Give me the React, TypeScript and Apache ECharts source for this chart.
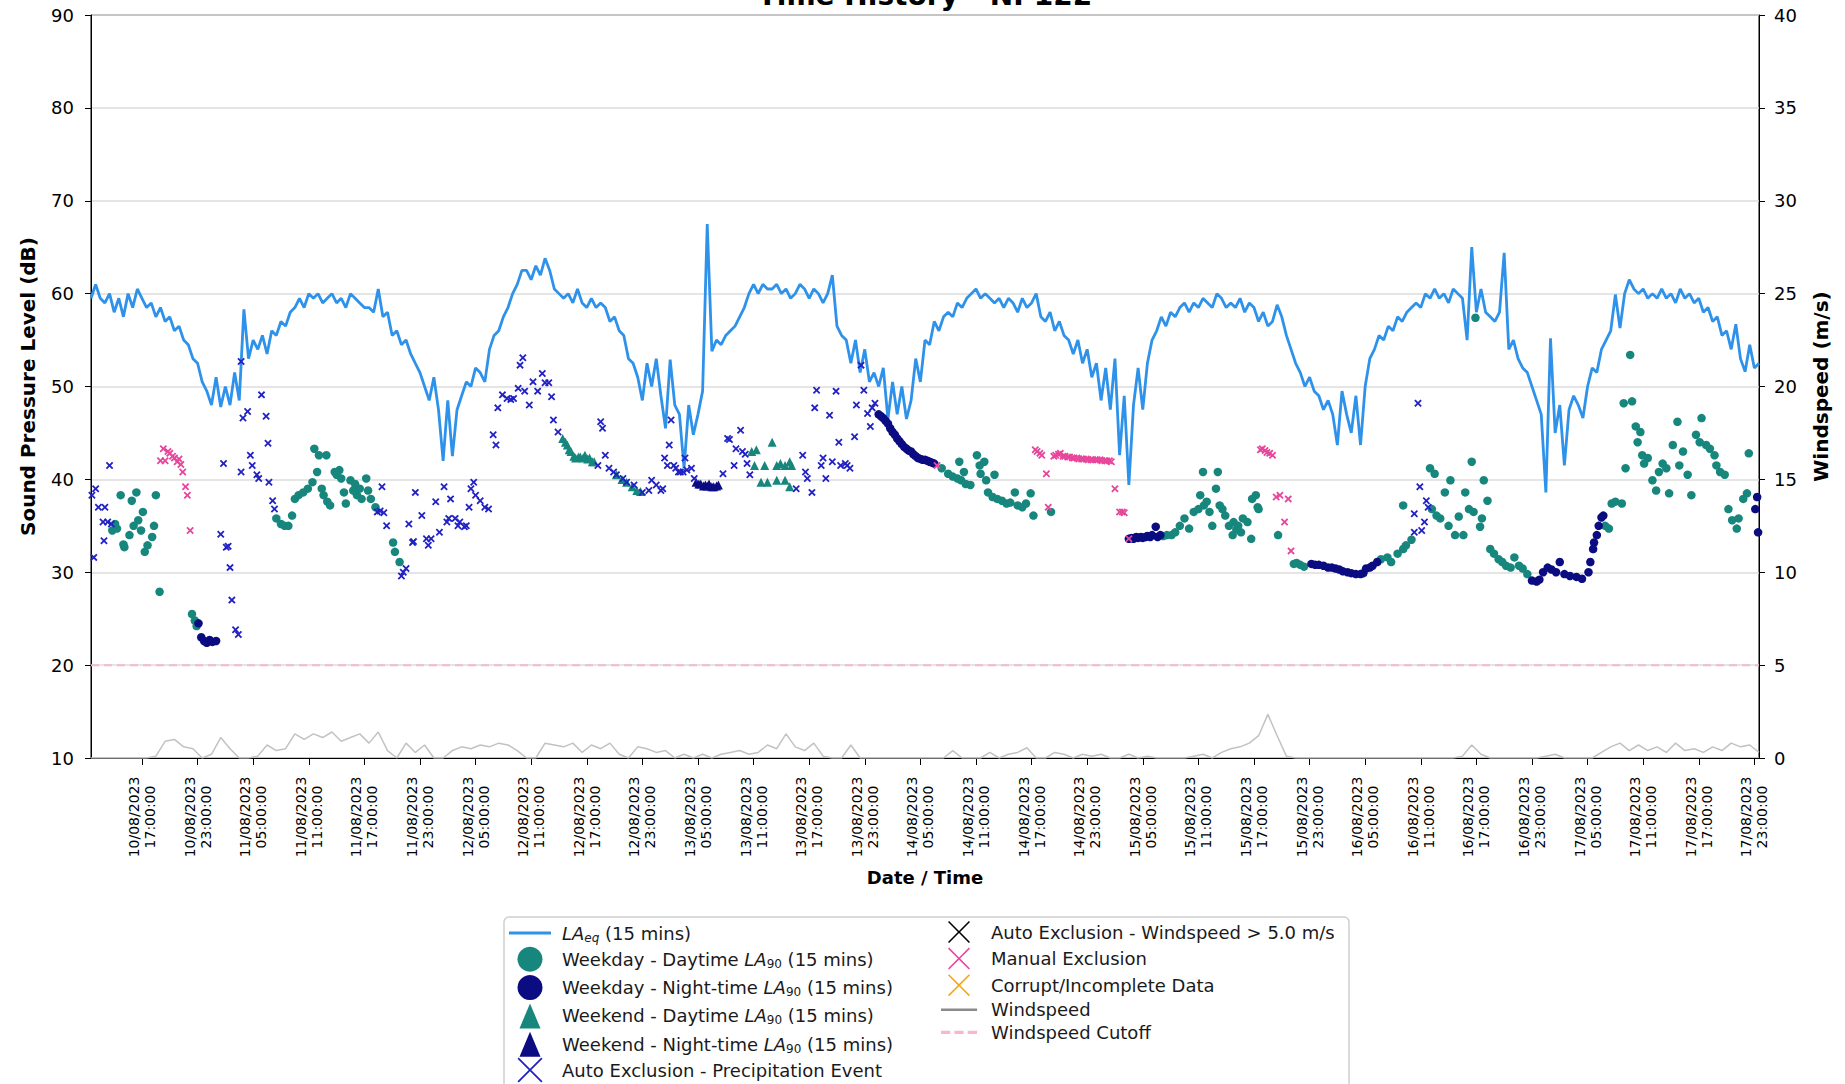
import React, { useEffect, useRef } from "react";
import * as echarts from "echarts";

// Time is expressed in hours since 10/08/2023 00:00
const X_MIN = 11.5;
const X_MAX = 191.5;
const TICK_HOURS = [17, 23, 29, 35, 41, 47, 53, 59, 65, 71, 77, 83, 89, 95, 101, 107, 113, 119, 125, 131, 137, 143, 149, 155, 161, 167, 173, 179, 185, 191];
const TICK_LABELS = [
  "10/08/2023\n17:00:00", "10/08/2023\n23:00:00", "11/08/2023\n05:00:00", "11/08/2023\n11:00:00", "11/08/2023\n17:00:00",
  "11/08/2023\n23:00:00", "12/08/2023\n05:00:00", "12/08/2023\n11:00:00", "12/08/2023\n17:00:00", "12/08/2023\n23:00:00",
  "13/08/2023\n05:00:00", "13/08/2023\n11:00:00", "13/08/2023\n17:00:00", "13/08/2023\n23:00:00", "14/08/2023\n05:00:00",
  "14/08/2023\n11:00:00", "14/08/2023\n17:00:00", "14/08/2023\n23:00:00", "15/08/2023\n05:00:00", "15/08/2023\n11:00:00",
  "15/08/2023\n17:00:00", "15/08/2023\n23:00:00", "16/08/2023\n05:00:00", "16/08/2023\n11:00:00", "16/08/2023\n17:00:00",
  "16/08/2023\n23:00:00", "17/08/2023\n05:00:00", "17/08/2023\n11:00:00", "17/08/2023\n17:00:00", "17/08/2023\n23:00:00",
];

// LAeq, every 30 minutes from 10/08 11:30
const LAEQ_START = 11.5;
const LAEQ_STEP = 0.5;
const LAEQ = [
  59.5, 61, 59.5, 59, 60, 58, 59.5, 57.5, 60, 58.5, 60.5, 59.5,
  58.5, 59, 57.5, 58.5, 57, 57.5, 56, 56.5, 55, 54.5, 53, 52.5,
  50.5, 49.5, 48, 51, 47.8, 50, 48, 51.5, 48.5, 58.3, 53, 55,
  54, 55.5, 53.5, 56, 55.5, 57, 56.5, 58, 58.5, 59.5, 58.5, 60,
  59.5, 60, 59, 59.5, 60, 59, 59.5, 58.5, 60, 59.5, 59, 58.5,
  58.5, 58, 60.5, 57.5, 58, 55.5, 56, 54.5, 55, 53.5, 52.5, 51.5,
  50, 48.5, 51, 47.5, 42, 48.5, 42.5, 47.5, 49, 50.5, 50, 52,
  51.5, 50.5, 54, 55.5, 56, 57.5, 58.5, 60, 61, 62.5, 62.5, 61.5,
  63, 62, 63.8, 62.5, 60.5, 60, 59.5, 60, 59, 60.5, 59, 58.5,
  59.5, 58.5, 59, 58.5, 57, 57.5, 56, 55.5, 53, 52.5, 51, 48.5,
  52.5, 50, 53, 49, 45.5, 52.9, 48, 47, 41.2, 48, 44.8, 47,
  49.5, 67.5, 53.8, 55, 54.5, 55.5, 56, 56.5, 57.5, 58.5, 60, 61,
  60, 61, 60.5, 60.5, 61, 60, 60.5, 59.5, 60, 61, 60.5, 59.5,
  60.5, 60, 59, 60, 62, 56.5, 55.5, 55, 52.5, 55, 51.5, 54,
  50.5, 51.5, 50, 52, 46.5, 50.5, 47, 50, 46.5, 48.5, 53, 50.5,
  55, 54.5, 57, 56, 57.5, 58, 57.5, 59, 58.5, 59.5, 60, 60.5,
  59.5, 60, 59.5, 59, 59.5, 58.5, 59.5, 59, 58, 59.5, 58.5, 59,
  60, 57.5, 57, 58, 56, 57, 55.5, 55, 53.5, 55, 52.5, 54,
  51, 52.5, 48.5, 52, 47.5, 53, 42.6, 49, 39.4, 48, 52, 47.5,
  52.5, 55, 56, 57.5, 56.5, 58, 57.5, 58.5, 59, 58, 59, 58.5,
  59.5, 59, 58.5, 60, 59.5, 58.5, 59, 58.5, 59.5, 58, 59, 58.5,
  57, 58, 56.5, 57, 58.8, 57.5, 55.5, 54, 52.5, 51.5, 50, 51,
  49.5, 49, 47.5, 48.5, 47, 43.7, 49.5, 47, 45, 49, 43.7, 50,
  53, 54, 55.5, 55, 56.5, 56, 57.5, 57, 58, 58.5, 59, 58.5,
  60, 59.5, 60.5, 59.5, 60, 59, 60.5, 60, 59.5, 55, 65, 58,
  60.5, 58, 57.5, 57, 58, 64.4, 54, 55, 53, 52, 51.5, 50,
  48.5, 47, 38.6, 55.2, 45, 48, 41.5, 47.5, 49, 48, 46.6, 50,
  52, 51.5, 54, 55, 56, 59.9, 56.3, 60, 61.5, 60.5, 60, 60.5,
  59.5, 60, 59.5, 60.5, 59.5, 60, 59, 60.5, 59.5, 60, 59, 59.5,
  58, 58.5, 57, 57.5, 55.5, 56, 54, 56.7, 53, 51.6, 54.5, 52,
  52.5,
];

// Windspeed (m/s), hourly from 10/08 11:30
const WIND_START = 11.5;
const WIND_STEP = 1;
const WIND = [
  0, 0, 0, 0, 0, 0,
  0, 0.1, 0.9, 1.0, 0.6, 0.5,
  0, 0.2, 1.1, 0.5, 0, 0,
  0.1, 0.7, 0.4, 0.5, 1.3, 1.0,
  1.3, 1.1, 1.4, 0.9, 1.1, 1.3,
  0.8, 1.4, 0.4, 0, 0.8, 0.3,
  0.7, 0, 0, 0.4, 0.6, 0.5,
  0.7, 0.6, 0.8, 0.7, 0.4, 0,
  0, 0.8, 0.7, 0.6, 0.8, 0.3,
  0.7, 0.5, 0.8, 0.2, 0, 0.6,
  0.5, 0.3, 0.4, 0, 0.2, 0,
  0.2, 0, 0.2, 0.3, 0.4, 0.2,
  0.3, 0.7, 0.5, 1.3, 0.6, 0.4,
  0.8, 0.1, 0, 0, 0.7, 0,
  0, 0, 0, 0, 0, 0,
  0, 0, 0, 0.4, 0, 0,
  0, 0.3, 0, 0.2, 0.3, 0.55,
  0, 0, 0.3, 0.2, 0, 0.2,
  0.1, 0.2, 0, 0, 0.2, 0,
  0.1, 0, 0, 0, 0, 0.1,
  0.2, 0, 0.3, 0.5, 0.6, 0.8,
  1.2, 2.35, 1.2, 0.1, 0, 0,
  0, 0, 0, 0, 0, 0,
  0, 0, 0, 0, 0, 0,
  0, 0, 0, 0, 0.1, 0.7,
  0.2, 0, 0, 0, 0, 0,
  0, 0.1, 0.2, 0, 0, 0,
  0, 0.3, 0.6, 0.8, 0.4, 0.7,
  0.4, 0.6, 0.3, 0.8, 0.4, 0.5,
  0.3, 0.6, 0.4, 0.8, 0.6, 0.7,
  0.3,
];
const WIND_CUTOFF = 5;

// [hour, dB]
const WEEKDAY_DAY = [
  [13.8, 34.5], [14.1, 35.2], [14.3, 34.7], [14.7, 38.3], [15.0, 33.0], [15.1, 32.7], [15.65, 34.0], [15.9, 37.7],
  [16.1, 35.0], [16.4, 38.6], [16.6, 35.6], [16.9, 34.5], [17.1, 36.5], [17.3, 32.2], [17.6, 32.9], [18.1, 33.8],
  [18.3, 35.0], [18.5, 38.3], [18.9, 27.9], [22.4, 25.5], [22.7, 24.8], [22.9, 24.2],
  [31.5, 35.8], [32.0, 35.2], [32.4, 35.0], [32.8, 35.0], [33.2, 36.1], [33.5, 37.9], [33.9, 38.3], [34.4, 38.6],
  [34.9, 39.0], [35.4, 39.7], [35.6, 43.3], [35.9, 40.8], [36.1, 42.6], [36.4, 39.0], [36.6, 38.3], [36.9, 42.6],
  [37.0, 37.6], [37.3, 37.2], [37.8, 40.8], [38.0, 40.5], [38.3, 41.0], [38.5, 40.1], [38.8, 38.6], [39.0, 37.4],
  [39.5, 39.9], [39.8, 38.8], [40.0, 39.5], [40.2, 38.3], [40.5, 39.0], [40.7, 37.9], [41.2, 40.1], [41.4, 38.8],
  [41.7, 37.9], [42.2, 37.0], [44.1, 33.2], [44.3, 32.2], [44.8, 31.1],
  [103.3, 41.2], [104.0, 40.6], [104.5, 40.3], [105.0, 40.1], [105.2, 41.9], [105.4, 39.9], [105.7, 40.8], [105.9, 39.5],
  [106.4, 39.4], [107.1, 42.6], [107.4, 41.5], [107.5, 40.6], [107.9, 41.9], [108.1, 39.9], [108.3, 38.6], [108.8, 38.1],
  [109.0, 40.5], [109.3, 37.9], [109.8, 37.7], [110.3, 37.4], [110.7, 37.5], [111.2, 38.6], [111.5, 37.2], [112.0, 37.0],
  [112.4, 37.4], [112.9, 38.5], [113.2, 36.1], [115.1, 36.5],
  [127.2, 33.9], [127.6, 34.0], [128.1, 34.0], [128.5, 34.3], [129.0, 35.0], [129.5, 35.8], [130.0, 34.7], [130.5, 36.5],
  [131.0, 36.8], [131.2, 38.3], [131.5, 40.8], [131.6, 37.2], [131.9, 37.6], [132.2, 36.5], [132.5, 35.0], [132.9, 39.0],
  [133.1, 40.8], [133.3, 37.2], [133.6, 36.8], [133.9, 36.1], [134.3, 35.0], [134.7, 34.0], [134.8, 35.4], [135.1, 34.6],
  [135.3, 35.0], [135.6, 34.3], [135.8, 35.8], [136.3, 35.4], [136.7, 33.6], [136.8, 37.9], [137.2, 38.3], [137.4, 37.0],
  [137.5, 36.8], [139.6, 34.0], [141.3, 30.9], [141.6, 31.0], [142.0, 30.8], [142.4, 30.6],
  [150.7, 31.4], [151.4, 31.6], [151.8, 31.1], [152.5, 32.0], [153.1, 32.5], [153.4, 32.9], [153.1, 37.2], [154.0, 33.5],
  [156.0, 41.2], [156.5, 40.6], [156.2, 36.8], [156.7, 36.1], [157.1, 35.8], [157.6, 38.6], [158.0, 35.0], [158.2, 39.9],
  [158.7, 34.0], [159.1, 36.0], [159.6, 34.0], [159.8, 38.6], [160.2, 36.8], [160.5, 41.9], [160.7, 36.5], [160.9, 57.4],
  [161.4, 34.9], [161.6, 35.8], [161.8, 39.9], [162.2, 37.7], [162.5, 32.5], [162.9, 32.0], [163.4, 31.4], [163.8, 31.1],
  [164.2, 30.7], [164.7, 30.5], [165.1, 31.6], [165.6, 30.7], [166.0, 30.4], [166.5, 29.8],
  [174.9, 35.0], [175.3, 34.7], [175.6, 37.4], [176.0, 37.6], [176.7, 37.4], [176.9, 48.2], [177.1, 41.2], [177.6, 53.4],
  [177.8, 48.4], [178.2, 45.7], [178.4, 44.0], [178.7, 45.1], [178.9, 42.6], [179.1, 41.7], [179.5, 42.3], [180.0, 39.9],
  [180.4, 38.8], [180.7, 40.8], [181.1, 41.7], [181.5, 41.2], [181.8, 38.5], [182.2, 43.7], [182.7, 46.2], [182.9, 41.5],
  [183.3, 43.0], [183.8, 40.5], [184.2, 38.3], [184.7, 44.8], [185.1, 44.0], [185.3, 46.6], [185.8, 43.7], [186.2, 43.3],
  [186.7, 42.6], [186.9, 41.5], [187.3, 40.8], [187.8, 40.5], [188.2, 36.8], [188.6, 35.6], [189.1, 34.7], [189.3, 35.8],
  [189.8, 37.9], [190.2, 38.5], [190.4, 42.8],
];

const WEEKDAY_NIGHT = [
  [23.1, 24.5], [23.4, 23.0], [23.7, 22.6], [24.0, 22.4], [24.3, 22.7], [24.6, 22.5], [25.0, 22.6],
  [96.5, 47.0], [96.75, 46.8], [97.0, 46.6], [97.25, 46.3], [97.5, 46.0], [97.75, 45.5], [98.0, 45.1], [98.25, 44.8],
  [98.5, 44.4], [98.75, 44.1], [99.0, 43.8], [99.25, 43.5], [99.5, 43.3], [99.75, 43.1], [100.0, 43.0], [100.25, 42.7],
  [100.5, 42.5], [100.75, 42.3], [101.0, 42.2], [101.25, 42.1], [101.5, 42.1], [101.75, 42.0], [102.0, 41.9],
  [102.25, 41.8], [102.5, 41.7],
  [123.5, 33.6], [123.8, 33.7], [124.0, 33.6], [124.3, 33.8], [124.5, 33.7], [124.8, 33.8], [125.0, 33.7], [125.3, 33.8],
  [125.5, 33.9], [125.8, 33.8], [126.0, 34.0], [126.4, 34.9], [126.6, 33.8], [126.9, 34.0],
  [143.2, 30.9], [143.6, 30.8], [144.0, 30.8], [144.5, 30.7], [145.0, 30.5], [145.4, 30.5], [145.8, 30.4], [146.2, 30.3],
  [146.6, 30.1], [147.1, 30.0], [147.5, 29.9], [148.0, 29.8], [148.5, 29.8], [148.8, 29.9], [149.1, 30.4], [149.5, 30.5],
  [149.8, 30.7], [150.3, 31.1],
  [167.0, 29.1], [167.5, 29.0], [167.8, 29.2], [168.2, 30.0], [168.7, 30.5], [169.1, 30.3], [169.6, 30.0], [170.0, 31.1],
  [170.5, 29.8], [171.1, 29.6], [171.8, 29.5], [172.4, 29.3], [173.1, 30.0], [173.3, 31.1], [173.6, 32.5], [173.7, 33.2],
  [174.0, 34.0], [174.2, 35.0], [174.5, 35.9], [174.7, 36.1],
  [191.1, 36.8], [191.3, 38.1], [191.4, 34.3],
];

const WEEKEND_DAY = [
  [62.4, 44.4], [62.7, 44.0], [62.9, 43.7], [63.1, 43.2], [63.3, 43.0], [63.6, 42.5], [63.8, 42.3], [64.1, 42.4],
  [64.3, 42.4], [64.6, 42.3], [64.8, 42.6], [65.1, 42.2], [65.3, 42.3], [65.6, 41.9], [65.8, 41.9],
  [68.2, 40.5], [68.8, 40.0], [69.3, 39.7], [69.9, 39.2], [70.4, 38.8], [70.8, 38.7],
  [82.8, 43.0], [83.1, 41.5], [83.3, 43.2], [83.8, 39.7], [84.2, 41.5], [84.5, 39.7], [85.0, 44.0], [85.5, 39.9],
  [85.5, 41.5], [85.9, 41.7], [86.4, 41.5], [86.4, 39.9], [86.9, 41.9], [86.9, 39.2], [87.1, 41.5],
];

const WEEKEND_NIGHT = [
  [76.8, 39.7], [77.1, 39.5], [77.3, 39.5], [77.6, 39.3], [77.8, 39.4], [78.0, 39.3], [78.2, 39.5], [78.5, 39.2],
  [78.7, 39.2], [79.0, 39.3], [79.2, 39.4],
];

const PRECIP = [
  [11.6, 38.3], [11.8, 31.6], [12.0, 39.0], [12.3, 37.0], [12.8, 35.4], [12.9, 33.4], [13.0, 37.0], [13.3, 35.4],
  [13.5, 41.5], [13.7, 35.2],
  [25.5, 34.1], [25.8, 41.7], [26.1, 32.7], [26.3, 32.8], [26.5, 30.5], [26.7, 27.0], [27.1, 23.8], [27.4, 23.3],
  [27.7, 52.7], [27.7, 40.8], [27.9, 46.6], [28.4, 47.3], [28.7, 42.6], [28.9, 41.5], [29.4, 40.5], [29.6, 40.1],
  [29.9, 49.1], [30.4, 46.8], [30.6, 43.9], [30.7, 39.7], [31.1, 37.7], [31.3, 36.8],
  [42.4, 36.5], [42.7, 36.6], [42.9, 39.2], [43.1, 36.4], [43.4, 35.0], [45.0, 29.6], [45.2, 30.0], [45.5, 30.4],
  [45.8, 35.2], [46.2, 33.2], [46.3, 33.3], [46.5, 38.6], [47.2, 36.1], [47.7, 33.6], [47.9, 32.9], [48.2, 33.6],
  [48.7, 37.6], [49.1, 34.3], [49.6, 39.2], [49.9, 35.4], [50.1, 35.8], [50.3, 37.9], [50.8, 35.8], [51.1, 35.0],
  [51.3, 35.4], [51.8, 34.9], [52.0, 35.0], [52.3, 37.0], [52.5, 39.0], [52.8, 39.7], [53.0, 38.3], [53.5, 37.7],
  [54.0, 37.0], [54.4, 36.8], [54.9, 44.8], [55.2, 43.7],
  [55.4, 47.7], [55.9, 49.1], [56.4, 48.7], [56.8, 48.6], [57.1, 48.7], [57.6, 49.8], [57.8, 52.3], [58.1, 53.1],
  [58.3, 49.5], [58.8, 48.0], [59.2, 50.5], [59.7, 49.5], [60.2, 51.4], [60.5, 50.4], [60.9, 50.4], [61.2, 48.9],
  [61.4, 46.4], [61.9, 45.1],
  [66.2, 41.5], [66.5, 46.2], [66.7, 45.5], [67.0, 42.6], [67.4, 41.2], [67.9, 40.8], [68.2, 40.5], [68.9, 40.1],
  [69.3, 39.7], [70.1, 39.4], [71.0, 38.6], [71.7, 38.8], [72.0, 39.9], [72.5, 39.4], [73.0, 38.8], [73.2, 39.0],
  [73.4, 42.3], [73.7, 41.5], [73.9, 43.7], [74.1, 46.4], [74.4, 41.5], [74.6, 41.2], [74.9, 40.8], [75.1, 40.8],
  [75.4, 40.8], [75.6, 42.3], [75.8, 41.0], [76.3, 41.2], [76.6, 40.1],
  [79.7, 40.6], [80.2, 44.4], [80.4, 44.3], [80.9, 41.5], [81.1, 43.3], [81.6, 45.3], [81.8, 43.0], [82.1, 42.7],
  [82.3, 41.7], [82.6, 40.5],
  [87.6, 39.0], [88.3, 42.6], [88.6, 40.8], [88.8, 40.1], [89.3, 38.6], [89.6, 47.7], [89.8, 49.6], [90.3, 41.5],
  [90.5, 42.3], [90.8, 40.1], [91.2, 46.9], [91.5, 41.9], [91.9, 49.5], [92.2, 44.0], [92.4, 41.5], [92.9, 41.7],
  [93.1, 41.5], [93.4, 41.2], [93.9, 44.6], [94.1, 48.0], [94.6, 52.3], [94.9, 49.6], [95.3, 47.1], [95.6, 45.7],
  [95.8, 47.7], [96.1, 48.2],
  [154.3, 34.3], [154.3, 36.3], [154.7, 48.2], [154.9, 39.2], [155.1, 34.5], [155.4, 35.4], [155.6, 37.7], [155.8, 37.0],
];

const WIND_EXCL: number[][] = [];
const CORRUPT: number[][] = [];

const MANUAL = [
  [19.0, 42.0], [19.3, 43.3], [19.5, 42.0], [19.8, 43.0], [20.0, 42.8], [20.3, 42.5], [20.5, 42.3], [20.8, 41.9],
  [21.0, 42.2], [21.2, 41.6], [21.4, 40.8], [21.7, 39.2], [21.9, 38.3], [22.2, 34.5],
  [102.8, 41.5],
  [113.4, 43.2], [113.6, 43.0], [113.9, 42.8], [114.1, 42.6], [114.6, 40.6], [114.8, 37.0], [115.4, 42.5], [115.6, 42.6],
  [115.9, 42.7], [116.1, 42.8], [116.4, 42.5], [116.6, 42.5], [116.9, 42.4], [117.1, 42.4], [117.4, 42.3], [117.6, 42.3],
  [117.9, 42.3], [118.1, 42.2], [118.4, 42.2], [118.6, 42.2], [118.9, 42.2], [119.1, 42.1], [119.4, 42.1], [119.6, 42.1],
  [119.9, 42.1], [120.1, 42.1], [120.4, 42.1], [120.6, 42.0], [120.9, 42.0], [121.1, 42.0], [121.4, 42.0], [121.6, 41.9],
  [122.0, 39.0], [122.5, 36.5], [122.8, 36.5], [123.0, 36.4], [123.5, 33.6],
  [137.7, 43.2], [137.9, 43.3], [138.2, 43.1], [138.4, 42.9], [138.7, 42.8], [139.0, 42.6], [139.4, 38.1], [139.8, 38.3],
  [140.3, 35.4], [140.7, 37.9], [141.0, 32.3],
];

const N_LAEQ = "LAeq (15 mins)";
const N_WD_DAY = "Weekday - Daytime LA90 (15 mins)";
const N_WD_NIGHT = "Weekday - Night-time LA90 (15 mins)";
const N_WE_DAY = "Weekend - Daytime LA90 (15 mins)";
const N_WE_NIGHT = "Weekend - Night-time LA90 (15 mins)";
const N_PRECIP = "Auto Exclusion - Precipitation Event";
const N_WIND5 = "Auto Exclusion - Windspeed > 5.0 m/s";
const N_MANUAL = "Manual Exclusion";
const N_CORRUPT = "Corrupt/Incomplete Data";
const N_WIND = "Windspeed";
const N_CUTOFF = "Windspeed Cutoff";

const RICH_LABELS: Record<string, string> = {
  [N_LAEQ]: "{i|LA}{s|eq} (15 mins)",
  [N_WD_DAY]: "Weekday - Daytime {i|LA}{n|90} (15 mins)",
  [N_WD_NIGHT]: "Weekday - Night-time {i|LA}{n|90} (15 mins)",
  [N_WE_DAY]: "Weekend - Daytime {i|LA}{n|90} (15 mins)",
  [N_WE_NIGHT]: "Weekend - Night-time {i|LA}{n|90} (15 mins)",
};

const FONT = "DejaVu Sans";
const C_LAEQ = "#2f92ea";
const C_TEAL = "#17877d";
const C_NAVY = "#0b0b82";
const C_BLUE = "#2222c4";
const C_PINK = "#e8469b";
const C_ORANGE = "#f0a818";
const C_GREY = "#c2c2c2";
const C_CUT = "#f6b9cb";

const xMark = (t: number) =>
  `path://M0,${t}L${t},0L50,${50 - t}L${100 - t},0L100,${t}L${50 + t},50L100,${100 - t}L${100 - t},100L50,${50 + t}L${t},100L0,${100 - t}L${50 - t},50Z`;
const LINE_ICON = "path://M0,0H42V3H0Z";
const DASH_ICON = "path://M0,0H9V3H0ZM13,0H22V3H13ZM26,0H35V3H26Z";
const TRI_ICON = "path://M42,0L84,100H0Z";

function scatter(name: string, data: number[][], color: string, symbol: string, size: number) {
  return {
    type: "scatter",
    name,
    data,
    symbol,
    symbolSize: size,
    itemStyle: { color, opacity: 1 },
    z: 3,
    silent: true,
    animation: false,
  };
}

function buildOption() {
  const rich = {
    i: { fontStyle: "italic", fontSize: 18, fontFamily: FONT, color: "#1a1a1a" },
    s: { fontStyle: "italic", fontSize: 12, fontFamily: FONT, color: "#1a1a1a", padding: [9, 0, 0, 0] },
    n: { fontSize: 12, fontFamily: FONT, color: "#1a1a1a", padding: [9, 0, 0, 0] },
  };
  const legendText = (pad: number) => ({
    fontSize: 18,
    fontFamily: FONT,
    color: "#1a1a1a",
    padding: [0, 0, 0, pad],
    rich,
  });
  const formatter = (name: string) => RICH_LABELS[name] || name;
  const col1 = (left: number, top: number, gap: number, data: any[]) => ({
    orient: "vertical",
    left,
    top,
    itemWidth: 42,
    itemHeight: 25,
    itemGap: gap,
    padding: 0,
    selectedMode: false,
    textStyle: legendText(6),
    formatter,
    data,
  });

  return {
    animation: false,
    backgroundColor: "#ffffff",
    title: {
      text: "Time History - NP122",
      left: 925,
      textAlign: "center",
      top: -19,
      padding: 0,
      textStyle: { fontSize: 28, fontWeight: "bold", fontFamily: FONT, color: "#000" },
    },
    grid: {
      left: 91,
      right: 86,
      top: 15,
      bottom: 326,
      show: true,
      borderColor: "#000",
      borderWidth: 1,
      backgroundColor: "#fff",
      containLabel: false,
      outerBoundsMode: "none",
    },
    xAxis: {
      type: "value",
      min: X_MIN,
      max: X_MAX,
      name: "Date / Time",
      nameLocation: "middle",
      nameGap: 110,
      nameTextStyle: { fontSize: 18, fontWeight: "bold", fontFamily: FONT, color: "#000" },
      axisLine: { show: true, lineStyle: { color: "#000", width: 1 } },
      axisTick: { show: true, length: 7, lineStyle: { color: "#000", width: 1 }, customValues: TICK_HOURS },
      axisLabel: {
        customValues: TICK_HOURS,
        rotate: 90,
        align: "center",
        verticalAlign: "middle",
        margin: 59,
        fontSize: 14,
        lineHeight: 16,
        fontFamily: FONT,
        color: "#000",
        formatter: (v: number) => {
          const idx = TICK_HOURS.findIndex((h) => Math.abs(h - v) < 1e-6);
          return idx >= 0 ? TICK_LABELS[idx] : "";
        },
      },
      splitLine: { show: false },
    },
    yAxis: [
      {
        type: "value",
        min: 10,
        max: 90,
        interval: 10,
        position: "left",
        name: "Sound Pressure Level (dB)",
        nameLocation: "middle",
        nameGap: 53,
        nameRotate: 90,
        nameTextStyle: { fontSize: 20, fontWeight: "bold", fontFamily: FONT, color: "#000" },
        axisLine: { show: true, lineStyle: { color: "#000", width: 1 } },
        axisTick: { show: true, length: 6, lineStyle: { color: "#000", width: 1 } },
        axisLabel: { fontSize: 18, fontFamily: FONT, color: "#000", margin: 17 },
        splitLine: { show: true, lineStyle: { color: "#dcdcdc", width: 1.5 } },
      },
      {
        type: "value",
        min: 0,
        max: 40,
        interval: 5,
        position: "right",
        name: "Windspeed (m/s)",
        nameLocation: "middle",
        nameGap: 52,
        nameRotate: 90,
        nameTextStyle: { fontSize: 20, fontWeight: "bold", fontFamily: FONT, color: "#000" },
        axisLine: { show: true, lineStyle: { color: "#000", width: 1 } },
        axisTick: { show: true, length: 6, lineStyle: { color: "#000", width: 1 } },
        axisLabel: { fontSize: 18, fontFamily: FONT, color: "#000", margin: 15 },
        splitLine: { show: false },
      },
    ],
    legend: [
      col1(509, 924, 3.3, [
        { name: N_LAEQ, icon: LINE_ICON },
        { name: N_WD_DAY, icon: "circle" },
        { name: N_WD_NIGHT, icon: "circle" },
        { name: N_WE_DAY, icon: TRI_ICON },
        { name: N_WE_NIGHT, icon: TRI_ICON },
      ]),
      col1(517.5, 1057.5, 3, [{ name: N_PRECIP, icon: xMark(5) }]),
      {
        orient: "vertical",
        left: 941,
        top: 921,
        itemWidth: 36,
        itemHeight: 22,
        itemGap: 4.6,
        padding: 0,
        selectedMode: false,
        textStyle: legendText(9),
        formatter,
        data: [
          { name: N_WIND5, icon: xMark(5) },
          { name: N_MANUAL, icon: xMark(5) },
          { name: N_CORRUPT, icon: xMark(5) },
          { name: N_WIND, icon: LINE_ICON, itemStyle: { color: "#8a8a8a" } },
          { name: N_CUTOFF, icon: DASH_ICON },
        ],
      },
    ],
    graphic: [
      {
        type: "rect",
        shape: { x: 504, y: 917, width: 845, height: 200, r: 5 },
        style: { fill: "none", stroke: "#cfcfcf", lineWidth: 1.5 },
        silent: true,
        z: 0,
      },
    ],
    series: [
      {
        type: "line",
        name: N_WIND,
        yAxisIndex: 1,
        data: WIND.map((v, i) => [WIND_START + i * WIND_STEP, v]),
        symbol: "none",
        color: C_GREY,
        lineStyle: { color: C_GREY, width: 1.5 },
        z: 1,
        silent: true,
      },
      {
        type: "line",
        name: N_CUTOFF,
        yAxisIndex: 1,
        data: [[X_MIN, WIND_CUTOFF], [X_MAX, WIND_CUTOFF]],
        symbol: "none",
        color: C_CUT,
        lineStyle: { color: C_CUT, width: 2, type: [8, 5] },
        z: 1,
        silent: true,
      },
      {
        type: "line",
        name: N_LAEQ,
        data: LAEQ.map((v, i) => [LAEQ_START + i * LAEQ_STEP, v]),
        symbol: "none",
        color: C_LAEQ,
        lineStyle: { color: C_LAEQ, width: 2.8 },
        z: 2,
        silent: true,
      },
      scatter(N_WD_DAY, WEEKDAY_DAY, C_TEAL, "circle", 8.5),
      scatter(N_WD_NIGHT, WEEKDAY_NIGHT, C_NAVY, "circle", 8.5),
      scatter(N_WE_DAY, WEEKEND_DAY, C_TEAL, "triangle", 9),
      scatter(N_WE_NIGHT, WEEKEND_NIGHT, C_NAVY, "triangle", 9),
      scatter(N_PRECIP, PRECIP, C_BLUE, xMark(17), 7.5),
      scatter(N_WIND5, WIND_EXCL, "#000000", xMark(17), 7.5),
      scatter(N_MANUAL, MANUAL, C_PINK, xMark(17), 7.5),
      scatter(N_CORRUPT, CORRUPT, C_ORANGE, xMark(17), 7.5),
    ],
  };
}

export default function App() {
  const ref = useRef<HTMLDivElement>(null);
  useEffect(() => {
    if (!ref.current) return;
    const chart = echarts.init(ref.current, null, { renderer: "svg" });
    chart.setOption(buildOption() as any);
    return () => chart.dispose();
  }, []);
  return (
    <div
      ref={ref}
      style={{ position: "absolute", left: 0, top: 0, width: 1845, height: 1084, background: "#fff" }}
    />
  );
}
